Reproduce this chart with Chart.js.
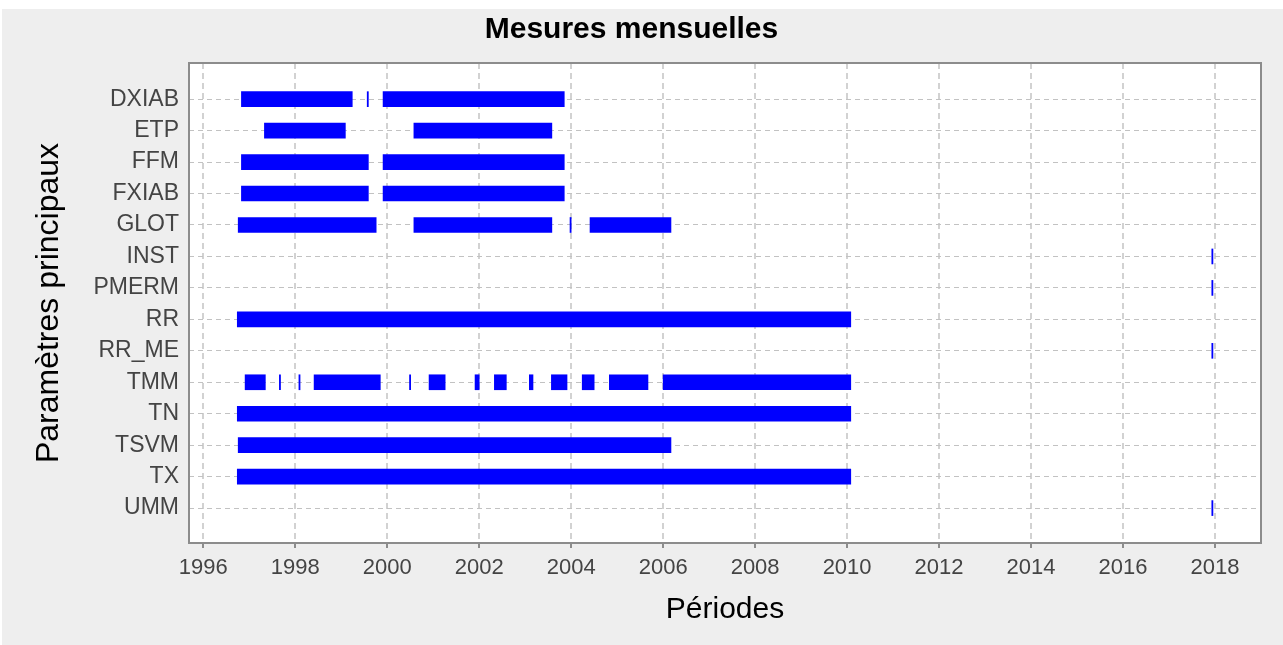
<!DOCTYPE html>
<html>
<head>
<meta charset="utf-8">
<script src="https://cdn.jsdelivr.net/npm/chart.js@4/dist/chart.umd.min.js"></script>
<style>
  body { margin: 0; background: #ffffff; }
  #panel { position: absolute; left: 2px; top: 9px; width: 1281px; height: 636px; background: #eeeeee; }
</style>
</head>
<body>
<div id="panel"><canvas id="chart_instance" width="1281" height="636"></canvas></div>
<script>
// parameters, top to bottom
var categories = ["DXIAB", "ETP", "FFM", "FXIAB", "GLOT", "INST", "PMERM", "RR", "RR_ME", "TMM", "TN", "TSVM", "TX", "UMM"];
var yearTicks = [1996, 1998, 2000, 2002, 2004, 2006, 2008, 2010, 2012, 2014, 2016, 2018];

// measurement periods per parameter, [start, end] in decimal years
var dxiab = [[1996.83, 1999.24], [1999.565, 1999.59], [1999.91, 2003.85]];
var etp = [[1997.33, 1999.09], [2000.58, 2003.58]];
var ffm = [[1996.83, 1999.59], [1999.91, 2003.85]];
var fxiab = [[1996.83, 1999.59], [1999.91, 2003.85]];
var glot = [[1996.76, 1999.76], [2000.58, 2003.58], [2003.975, 2004.0], [2004.41, 2006.17]];
var inst = [[2017.93, 2017.955]];
var pmerm = [[2017.93, 2017.955]];
var rr = [[1996.74, 2010.08]];
var rrMe = [[2017.93, 2017.955]];
var tmm = [[1996.91, 1997.35], [1997.655, 1997.68], [1998.08, 1998.105], [1998.41, 1999.85],
           [2000.485, 2000.51], [2000.91, 2001.26], [2001.91, 2002.0], [2002.33, 2002.59],
           [2003.09, 2003.17], [2003.57, 2003.91], [2004.24, 2004.5], [2004.83, 2005.67],
           [2006.0, 2010.08]];
var tn = [[1996.74, 2010.08]];
var tsvm = [[1996.76, 2006.17]];
var tx = [[1996.74, 2010.08]];
var umm = [[2017.93, 2017.955]];

var periods = [dxiab, etp, ffm, fxiab, glot, inst, pmerm, rr, rrMe, tmm, tn, tsvm, tx, umm];

var bars = [];
periods.forEach(function (list, i) {
    list.forEach(function (p) {
        bars.push({ x: [p[0], p[1]], y: i });
    });
});

var FONT = "'Liberation Sans', Arial, sans-serif";

// white plot background and grey frame
var plotFrame = {
    id: "plotFrame",
    beforeDraw: function (chart) {
        var a = chart.chartArea, c = chart.ctx;
        c.save();
        c.fillStyle = "#ffffff";
        c.fillRect(a.left, a.top, a.right - a.left, a.bottom - a.top);
        c.restore();
    },
    afterDraw: function (chart) {
        var a = chart.chartArea, c = chart.ctx;
        c.save();
        c.strokeStyle = "#8c8c8c";
        c.lineWidth = 2;
        c.strokeRect(a.left, a.top, a.right - a.left, a.bottom - a.top);
        c.restore();
    }
};

var chart_instance = new Chart(document.getElementById("chart_instance").getContext("2d"), {
    type: "bar",
    data: {
        datasets: [{
            data: bars,
            backgroundColor: "#0000ff",
            borderWidth: 0,
            barThickness: 15,
            grouped: false
        }]
    },
    options: {
        indexAxis: "y",
        responsive: false,
        animation: false,
        events: [],
        layout: { padding: { left: 0, right: 22, top: 0, bottom: 0 } },
        plugins: {
            legend: { display: false },
            tooltip: { enabled: false },
            title: {
                display: true,
                text: "Mesures mensuelles",
                color: "#000000",
                font: { family: FONT, size: 30, weight: "bold" },
                padding: { top: 3, bottom: 15 }
            }
        },
        scales: {
            x: {
                type: "linear",
                position: "bottom",
                min: 1995.69,
                max: 2019.0,
                afterBuildTicks: function (scale) {
                    scale.ticks = yearTicks.map(function (v) { return { value: v }; });
                },
                afterFit: function (scale) { scale.height = 102; },
                ticks: {
                    callback: function (v) { return String(v); },
                    color: "#444444",
                    font: { family: FONT, size: 22 },
                    padding: 7,
                    maxRotation: 0,
                    autoSkip: false
                },
                grid: {
                    color: "#d2d2d2",
                    lineWidth: 2,
                    drawTicks: true,
                    tickLength: 5,
                    tickColor: "#8c8c8c",
                    tickWidth: 2
                },
                border: { display: false, dash: [6, 4] },
                title: {
                    display: true,
                    text: "Périodes",
                    color: "#000000",
                    font: { family: FONT, size: 30 },
                    padding: { top: 0, bottom: 17 }
                }
            },
            y: {
                type: "linear",
                position: "left",
                reverse: true,
                offset: false,
                min: -1.15,
                max: 14.11,
                afterBuildTicks: function (scale) {
                    scale.ticks = categories.map(function (c, i) { return { value: i }; });
                },
                afterFit: function (scale) { scale.width = 187; },
                ticks: {
                    callback: function (v) { return categories[v]; },
                    color: "#444444",
                    font: { family: FONT, size: 23 },
                    padding: 10,
                    autoSkip: false
                },
                grid: {
                    color: "#c2c2c2",
                    lineWidth: 1,
                    offset: false,
                    drawTicks: false
                },
                border: { display: false, dash: [5, 4] },
                title: {
                    display: true,
                    text: "Paramètres principaux",
                    color: "#000000",
                    font: { family: FONT, size: 32 },
                    padding: { top: 28, bottom: 0 }
                }
            }
        }
    },
    plugins: [plotFrame]
});
</script>
</body>
</html>
